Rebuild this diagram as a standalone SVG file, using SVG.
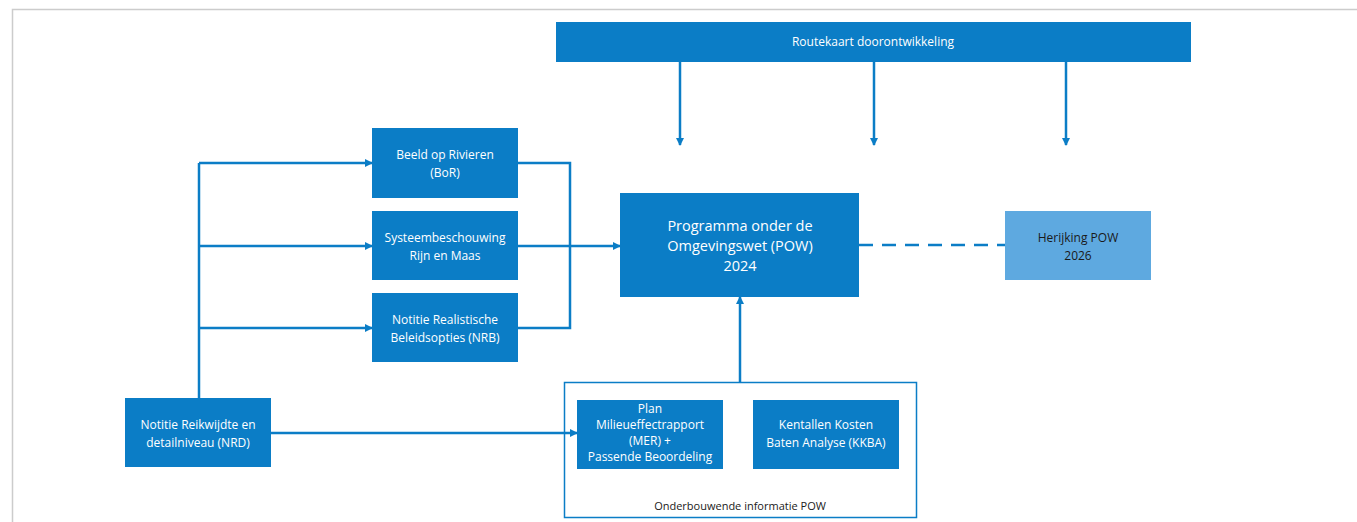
<svg xmlns="http://www.w3.org/2000/svg" width="1357" height="522" viewBox="0 0 1357 522">
<style>
.box{fill:#0B7DC6}
.light{fill:#5EA9E0}
.t{font-family:"Open Sans","Liberation Sans",sans-serif;font-size:12px;fill:#ffffff;text-anchor:middle}
.tk{font-family:"Open Sans","Liberation Sans",sans-serif;font-size:12px;fill:#1a1a1a;text-anchor:middle}
.tb{font-family:"Open Sans","Liberation Sans",sans-serif;font-size:14.5px;fill:#ffffff;text-anchor:middle}
.td{font-family:"Open Sans","Liberation Sans",sans-serif;font-size:11px;fill:#1a1a1a;text-anchor:middle}
.c{stroke:#0B7DC6;stroke-width:2.5;fill:none}
</style>
<defs>
<marker id="ah" markerWidth="8" markerHeight="8" refX="7" refY="4" orient="auto" markerUnits="userSpaceOnUse">
<path d="M0,0 L8,4 L0,8 z" fill="#0B7DC6"/>
</marker>
</defs>
<rect width="1357" height="522" fill="#ffffff"/>
<path d="M12.5,522 L12.5,9.5 L1357,9.5" stroke="#cccccc" stroke-width="1.5" fill="none"/>

<g id="connectors">
<line class="c" x1="680" y1="62" x2="680" y2="145" marker-end="url(#ah)"/>
<line class="c" x1="874" y1="62" x2="874" y2="145" marker-end="url(#ah)"/>
<line class="c" x1="1066" y1="62" x2="1066" y2="145" marker-end="url(#ah)"/>
<path class="c" d="M199,398 L199,163"/>
<line class="c" x1="199" y1="163" x2="372" y2="163" marker-end="url(#ah)"/>
<line class="c" x1="199" y1="246" x2="372" y2="246" marker-end="url(#ah)"/>
<line class="c" x1="199" y1="328" x2="372" y2="328" marker-end="url(#ah)"/>
<path class="c" d="M518,163 L570,163 L570,328 L518,328"/>
<line class="c" x1="518" y1="246" x2="620" y2="246" marker-end="url(#ah)"/>
<line class="c" x1="859" y1="245" x2="1005" y2="245" stroke-dasharray="14,9"/>
<line class="c" x1="740" y1="382" x2="740" y2="297" marker-end="url(#ah)"/>
<line class="c" x1="271" y1="433" x2="577" y2="433" marker-end="url(#ah)"/>
</g>

<g id="routekaart">
<rect class="box" x="556" y="22" width="635" height="40"/>
<text class="t" x="873" y="46">Routekaart doorontwikkeling</text>
</g>
<g id="bor">
<rect class="box" x="372" y="128" width="146" height="70"/>
<text class="t" x="445" y="159">Beeld op Rivieren</text>
<text class="t" x="445" y="177">(BoR)</text>
</g>
<g id="systeem">
<rect class="box" x="372" y="211" width="146" height="69"/>
<text class="t" x="445" y="242">Systeembeschouwing</text>
<text class="t" x="445" y="260">Rijn en Maas</text>
</g>
<g id="nrb">
<rect class="box" x="372" y="293" width="146" height="69"/>
<text class="t" x="445" y="324">Notitie Realistische</text>
<text class="t" x="445" y="342">Beleidsopties (NRB)</text>
</g>
<g id="pow">
<rect class="box" x="620" y="193" width="239" height="104"/>
<text class="tb" x="740" y="231">Programma onder de</text>
<text class="tb" x="740" y="251">Omgevingswet (POW)</text>
<text class="tb" x="740" y="271">2024</text>
</g>
<g id="herijking">
<rect class="light" x="1005" y="211" width="146" height="69"/>
<text class="tk" x="1078" y="242">Herijking POW</text>
<text class="tk" x="1078" y="260">2026</text>
</g>
<g id="nrd">
<rect class="box" x="125" y="398" width="146" height="69"/>
<text class="t" x="198" y="429">Notitie Reikwijdte en</text>
<text class="t" x="198" y="447">detailniveau (NRD)</text>
</g>
<g id="onderbouwend">
<rect x="564.5" y="382.5" width="352" height="135" fill="none" stroke="#0B7DC6" stroke-width="1.5"/>
<text class="td" x="740" y="510">Onderbouwende informatie POW</text>
</g>
<g id="mer">
<rect class="box" x="577" y="400" width="146" height="69"/>
<text class="t" x="650" y="413">Plan</text>
<text class="t" x="650" y="429">Milieueffectrapport</text>
<text class="t" x="650" y="445">(MER) +</text>
<text class="t" x="650" y="461">Passende Beoordeling</text>
</g>
<g id="kkba">
<rect class="box" x="753" y="400" width="146" height="69"/>
<text class="t" x="826" y="429">Kentallen Kosten</text>
<text class="t" x="826" y="447">Baten Analyse (KKBA)</text>
</g>
</svg>
